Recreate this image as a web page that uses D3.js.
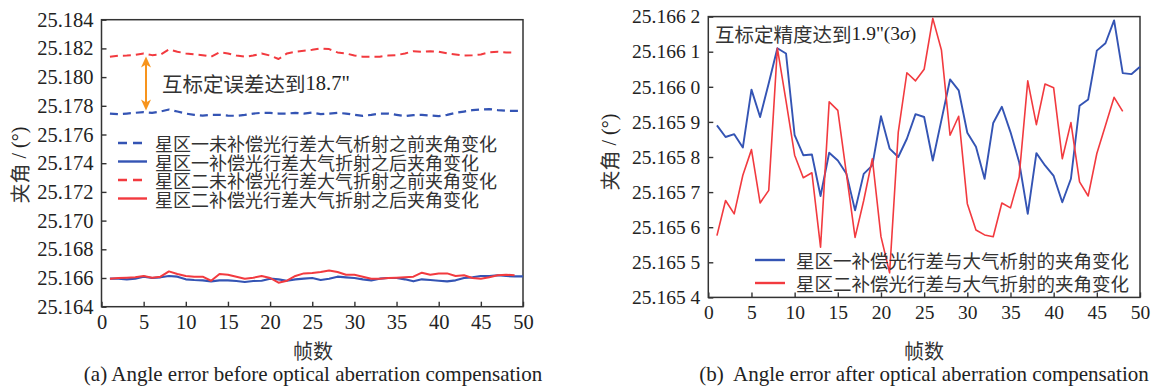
<!DOCTYPE html>
<html>
<head>
<meta charset="utf-8">
<script src="https://cdn.jsdelivr.net/npm/d3@7"></script>
<style>
  body { margin: 0; background: #fff; }
  svg { display: block; }
  .cjk { font-family: "Noto Sans CJK SC", sans-serif; fill: #333; }
  .serif { font-family: "Liberation Serif", "Times New Roman", serif; fill: #222; }
</style>
</head>
<body>
<div id="wrapper"></div>
<script>
// 1. Data

// (a) before compensation, frames start at 1
const aZone1Before = [25.17746, 25.17742, 25.17746, 25.17751, 25.17756, 25.17751, 25.1776, 25.17774, 25.1776, 25.17746,
  25.17737, 25.17732, 25.17737, 25.17737, 25.17732, 25.1773, 25.17737, 25.17746, 25.17751, 25.17751,
  25.17746, 25.17746, 25.17751, 25.17746, 25.17753, 25.17742, 25.17746, 25.17751, 25.17746, 25.17737,
  25.1773, 25.17737, 25.17746, 25.17746, 25.17737, 25.17728, 25.17735, 25.17737, 25.17732, 25.17728,
  25.17737, 25.17751, 25.1776, 25.1777, 25.17774, 25.17777, 25.1777, 25.17765, 25.17765, 25.17765]
const aZone1After = [25.16595, 25.16595, 25.16591, 25.16595, 25.16609, 25.166, 25.16605, 25.16614, 25.16609, 25.16591,
  25.16586, 25.16584, 25.16577, 25.16584, 25.16584, 25.16579, 25.16572, 25.16579, 25.16581, 25.16595,
  25.16591, 25.16581, 25.16591, 25.16595, 25.166, 25.16586, 25.16595, 25.16609, 25.16605, 25.166,
  25.16591, 25.16584, 25.16595, 25.166, 25.166, 25.16591, 25.16577, 25.16591, 25.16586, 25.16581,
  25.16577, 25.16584, 25.166, 25.16605, 25.16614, 25.16614, 25.16619, 25.16614, 25.16612, 25.16612]
const aZone2Before = [25.18142, 25.18149, 25.1815, 25.18155, 25.18165, 25.18153, 25.18157, 25.18193, 25.18177, 25.18165,
  25.18158, 25.18153, 25.18142, 25.18172, 25.18165, 25.1815, 25.18142, 25.1815, 25.18165, 25.1815,
  25.18126, 25.18165, 25.18177, 25.18184, 25.1819, 25.182, 25.18195, 25.18172, 25.18165, 25.1815,
  25.18142, 25.18142, 25.18142, 25.1815, 25.18153, 25.18165, 25.1818, 25.18177, 25.1818, 25.18177,
  25.18165, 25.18158, 25.1815, 25.18153, 25.18158, 25.18172, 25.18177, 25.18172, 25.1817]
const aZone2After = [25.16595, 25.166, 25.16602, 25.16605, 25.16614, 25.16602, 25.16609, 25.16646, 25.16628, 25.16614,
  25.16609, 25.16609, 25.16581, 25.16628, 25.16623, 25.16609, 25.16595, 25.16602, 25.16614, 25.166,
  25.16567, 25.16581, 25.16614, 25.16632, 25.16635, 25.16642, 25.16653, 25.16642, 25.16623, 25.16623,
  25.16609, 25.16595, 25.16595, 25.166, 25.16602, 25.16605, 25.16609, 25.16637, 25.16623, 25.16632,
  25.16632, 25.16614, 25.16619, 25.166, 25.16595, 25.16605, 25.16619, 25.16623, 25.16619]

// (b) after compensation
const bZone1 = [25.16589, 25.165857, 25.165865, 25.165827, 25.165992, 25.165914, 25.16601, 25.16611, 25.166095, 25.165862,
  25.165805, 25.165807, 25.165689, 25.165812, 25.16579, 25.165752, 25.165648, 25.165752, 25.165776, 25.165916,
  25.165824, 25.1658, 25.165852, 25.165922, 25.165914, 25.16579, 25.165905, 25.166021, 25.16599, 25.165869,
  25.165829, 25.165738, 25.165897, 25.165943, 25.165871, 25.165786, 25.165638, 25.165811, 25.165776, 25.165746,
  25.165671, 25.165738, 25.165946, 25.165964, 25.166103, 25.166124, 25.166189, 25.166039, 25.166036, 25.166057]
const bZone2 = [25.165576, 25.165676, 25.165638, 25.165748, 25.165821, 25.165669, 25.165705, 25.16611, 25.16596, 25.165805,
  25.165741, 25.165755, 25.165543, 25.165957, 25.165933, 25.165752, 25.165571, 25.165676, 25.165795, 25.165573,
  25.16547, 25.16587, 25.16604, 25.166017, 25.16605, 25.166195, 25.166105, 25.165862, 25.165916, 25.165667,
  25.165592, 25.165578, 25.165573, 25.165669, 25.165655, 25.165743, 25.166017, 25.165892, 25.166008, 25.165997,
  25.165795, 25.165898, 25.165729, 25.165689, 25.16581, 25.16589, 25.16597, 25.16593]

const xTicks = [0, 5, 10, 15, 20, 25, 30, 35, 40, 45, 50]
const aYTicks = [25.164, 25.166, 25.168, 25.170, 25.172, 25.174, 25.176, 25.178, 25.180, 25.182, 25.184]
const bYTicks = [25.1654, 25.1655, 25.1656, 25.1657, 25.1658, 25.1659, 25.1660, 25.1661, 25.1662]

const aLegend = ["星区一未补偿光行差大气析射之前夹角变化", "星区一补偿光行差大气折射之后夹角变化",
  "星区二未补偿光行差大气折射之前夹角变化", "星区二补偿光行差大气折射之后夹角变化"]
const bLegend = ["星区一补偿光行差与大气析射的夹角变化", "星区二补偿光行差与大气折射的夹角变化"]

const blue = "#3454b4"
const red = "#f23a3f"
const frame = "#333"

// 2. Canvas

const svg = d3.select("#wrapper").append("svg")
    .attr("width", 1157)
    .attr("height", 388)

// draws one boxed panel, returns its scales
function panel(box, yDomain, yTicks, yFormat, fontSize) {
  const x = d3.scaleLinear().domain([0, 50]).range([box.x0, box.x1])
  const y = d3.scaleLinear().domain(yDomain).range([box.y1, box.y0])

  const xAxis = svg.append("g")
      .attr("transform", `translate(0,${box.y1})`)
      .call(d3.axisBottom(x).tickValues(xTicks).tickSizeInner(-5).tickSizeOuter(0).tickPadding(8))
  const yAxis = svg.append("g")
      .attr("transform", `translate(${box.x0},0)`)
      .call(d3.axisLeft(y).tickValues(yTicks).tickFormat(yFormat).tickSizeInner(-5).tickSizeOuter(0).tickPadding(8))

  ;[xAxis, yAxis].forEach(g => {
    g.attr("font-family", null).attr("font-size", null)
    g.select(".domain").remove()
    g.selectAll(".tick line").attr("stroke", frame).attr("stroke-width", 1.4)
    g.selectAll(".tick text")
        .attr("class", "serif")
        .attr("fill", null)
        .style("font-size", fontSize + "px")
  })

  svg.append("rect")
      .attr("x", box.x0).attr("y", box.y0)
      .attr("width", box.x1 - box.x0).attr("height", box.y1 - box.y0)
      .attr("fill", "none").attr("stroke", frame).attr("stroke-width", 1.5)

  return { x, y }
}

function series(sc, values, color, width, dash) {
  const line = d3.line()
      .x((d, i) => sc.x(i + 1))
      .y(d => sc.y(d))
  svg.append("path")
      .datum(values)
      .attr("d", line)
      .attr("fill", "none")
      .attr("stroke", color)
      .attr("stroke-width", width)
      .attr("stroke-linejoin", "round")
      .attr("stroke-dasharray", dash || null)
}

function labels(cx, xTitleY, captionY, caption, yLabelX, yLabelY) {
  svg.append("text").attr("class", "cjk")
      .attr("x", cx).attr("y", xTitleY)
      .attr("text-anchor", "middle").attr("dominant-baseline", "central")
      .style("font-size", "20px").text("帧数")
  svg.append("text").attr("class", "serif")
      .attr("x", cx).attr("y", captionY)
      .attr("text-anchor", "middle")
      .style("font-size", "21px").style("white-space", "pre").text(caption)
  const yl = svg.append("text")
      .attr("transform", `translate(${yLabelX},${yLabelY}) rotate(-90)`)
      .attr("text-anchor", "middle").attr("dominant-baseline", "central")
      .style("font-size", "20px")
  yl.append("tspan").attr("class", "cjk").text("夹角")
  yl.append("tspan").attr("class", "serif").text(" / (°)")
}

// 3. Panel (a)

const boxA = { x0: 101.5, x1: 523, y0: 19.7, y1: 306.7 }
const scA = panel(boxA, [25.164, 25.184], aYTicks, d3.format(".3f"), 20.5)

series(scA, aZone1Before, blue, 2.2, "8,5")
series(scA, aZone2Before, red, 2, "8,5")
series(scA, aZone1After, blue, 2.2)
series(scA, aZone2After, red, 2)

labels(313, 350, 381, "(a) Angle error before optical aberration compensation", 19, 165)

// legend (a)
const legA = svg.append("g")
aLegend.forEach((t, i) => {
  const yy = 143 + i * 18.5
  legA.append("line")
      .attr("x1", 118).attr("x2", 147).attr("y1", yy).attr("y2", yy)
      .attr("stroke", i < 2 ? blue : red).attr("stroke-width", 2.4)
      .attr("stroke-dasharray", i % 2 === 0 ? "9,6" : null)
  legA.append("text").attr("class", "cjk")
      .attr("x", 155).attr("y", yy)
      .attr("dominant-baseline", "central")
      .style("font-size", "18px").text(t)
})

// double arrow between the dashed curves
const arrowX = 146, arrowTop = 56.5, arrowBottom = 110.5
const orange = "#f7941d"
svg.append("line")
    .attr("x1", arrowX).attr("x2", arrowX)
    .attr("y1", arrowTop + 6).attr("y2", arrowBottom - 6)
    .attr("stroke", orange).attr("stroke-width", 2)
;[[arrowTop, 1], [arrowBottom, -1]].forEach(([tip, dir]) => {
  svg.append("path")
      .attr("d", `M${arrowX},${tip} L${arrowX + 5},${tip + dir * 11} L${arrowX},${tip + dir * 8} L${arrowX - 5},${tip + dir * 11} Z`)
      .attr("fill", orange)
})
const noteA = svg.append("text")
    .attr("x", 162).attr("y", 83)
    .attr("dominant-baseline", "central")
    .style("font-size", "20.5px")
noteA.append("tspan").attr("class", "cjk").text("互标定误差达到")
noteA.append("tspan").attr("class", "serif").text("18.7\"")

// 4. Panel (b)

const boxB = { x0: 708.3, x1: 1140, y0: 16.6, y1: 297.4 }
const fmtB = v => {
  const s = v.toFixed(4)
  return s.slice(0, -1) + " " + s.slice(-1)
}
const scB = panel(boxB, [25.1654, 25.1662], bYTicks, fmtB, 19.5)

series(scB, bZone1, blue, 1.9)
series(scB, bZone2, red, 1.6)

labels(924, 350, 381, "(b)  Angle error after optical aberration compensation", 609, 152)

// legend (b)
bLegend.forEach((t, i) => {
  const yy = 260 + i * 23
  svg.append("line")
      .attr("x1", 755).attr("x2", 785).attr("y1", yy).attr("y2", yy)
      .attr("stroke", i === 0 ? blue : red).attr("stroke-width", 2.4)
  svg.append("text").attr("class", "cjk")
      .attr("x", 796).attr("y", yy)
      .attr("dominant-baseline", "central")
      .style("font-size", "18.5px").text(t)
})

const noteB = svg.append("text")
    .attr("x", 715).attr("y", 33)
    .attr("dominant-baseline", "central")
    .style("font-size", "19.5px")
noteB.append("tspan").attr("class", "cjk").text("互标定精度达到")
noteB.append("tspan").attr("class", "serif").text("1.9\"(3")
noteB.append("tspan").attr("class", "serif").style("font-style", "italic").text("σ")
noteB.append("tspan").attr("class", "serif").text(")")
</script>
</body>
</html>
